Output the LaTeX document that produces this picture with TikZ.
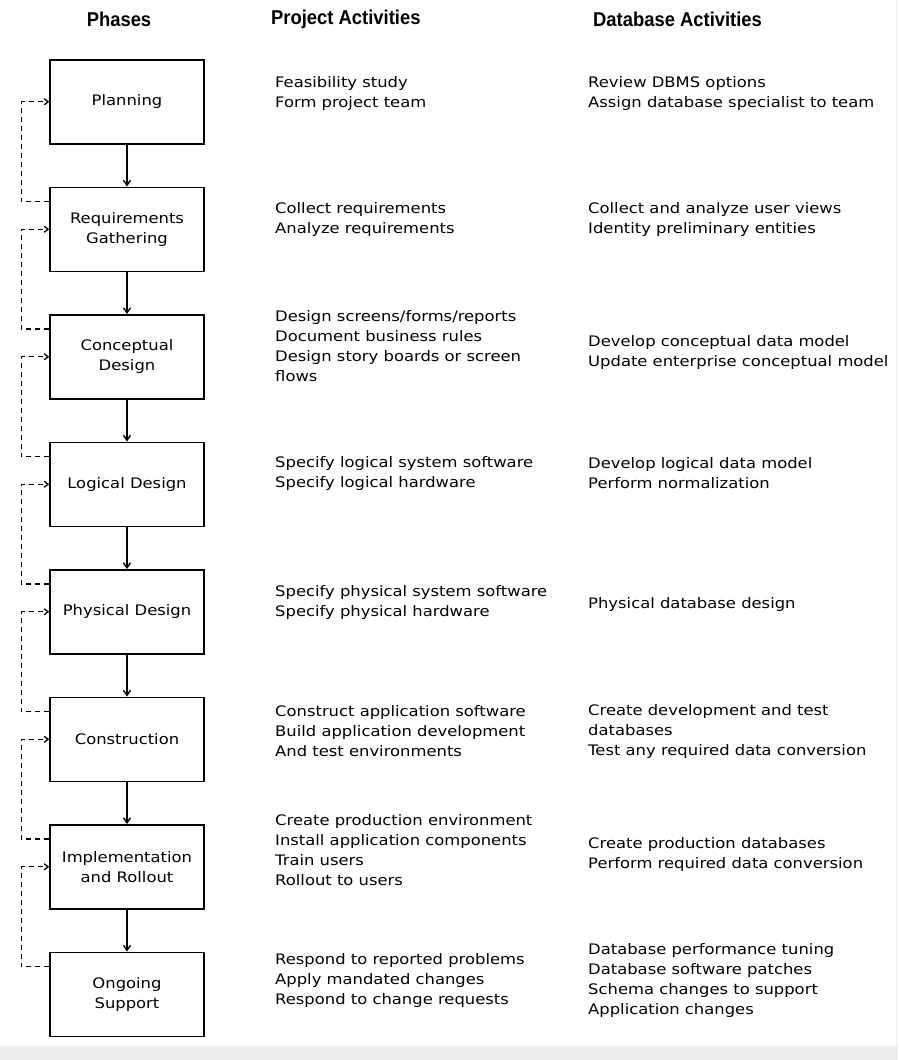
\documentclass[tikz,border=0pt]{standalone}
\usepackage{fontspec}
\setmainfont[FakeStretch=1.13]{DejaVu Sans}
\newfontfamily\headfont[FakeStretch=0.92]{Liberation Sans}
\usetikzlibrary{positioning, arrows.meta}

\begin{document}
\begin{tikzpicture}[x=1pt, y=-1pt,
    font=\fontsize{14.5}{20}\selectfont,
    phase/.style={draw, line width=1.5pt, minimum width=154pt,
                  minimum height=84pt, inner sep=0pt, align=center},
    act/.style={anchor=west, align=left, inner sep=0pt},
    head/.style={font=\headfont\bfseries\fontsize{20}{22}\selectfont, inner sep=0pt},
    flow/.style={line width=1.4pt, -{Straight Barb[length=5pt, width=7pt]}},
    fb/.style={line width=1.3pt, dash pattern=on 5pt off 4pt,
               -{Straight Barb[length=4pt, width=6pt]}}]
    \useasboundingbox (0,0) rectangle (898,1060);
    \fill[gray!15] (0,1046) rectangle (898,1060);
    \draw[gray!12] (896,0) -- (896,1046);

    % Column heads
        \node[head] (hphase) at (119,19) {Phases};
        \node[head, anchor=west] (hproj) at (271,19) {Project Activities};
        \node[head, anchor=west] (hdb) at (593,19) {Database Activities};

    % The phases
        \node[phase, anchor=north] (plan) at (127,59) {Planning};
        \node[phase, below=42pt of plan] (req) {Requirements\\Gathering};
        \node[phase, below=42pt of req] (con) {Conceptual\\Design};
        \node[phase, below=42pt of con] (log) {Logical Design};
        \node[phase, below=42pt of log] (phy) {Physical Design};
        \node[phase, below=42pt of phy] (cons) {Construction};
        \node[phase, below=42pt of cons] (impl) {Implementation\\and Rollout};
        \node[phase, below=42pt of impl] (ong) {Ongoing\\Support};

        \draw[flow]
            (plan) edge (req)
            (req) edge (con)
            (con) edge (log)
            (log) edge (phy)
            (phy) edge (cons)
            (cons) edge (impl)
            (impl) edge (ong);

    % Feedback to the phase before
        \foreach \a/\b in {req/plan, con/req, log/con, phy/log,
                           cons/phy, impl/cons, ong/impl}
            \draw[fb] ([yshift=-15pt]\a.north west) -- ++(-28,0) |- (\b.west);

    % Project activities
        \node[act] (p1) at (275,93) {Feasibility study\\Form project team};
        \node[act] (p2) at (275,219) {Collect requirements\\Analyze requirements};
        \node[act] (p3) at (275,346) {Design screens/forms/reports\\Document business rules\\Design story boards or screen\\flows};
        \node[act] (p4) at (275,473) {Specify logical system software\\Specify logical hardware};
        \node[act] (p5) at (275,602) {Specify physical system software\\Specify physical hardware};
        \node[act] (p6) at (275,731) {Construct application software\\Build application development\\And test environments};
        \node[act] (p7) at (275,850) {Create production environment\\Install application components\\Train users\\Rollout to users};
        \node[act] (p8) at (275,980) {Respond to reported problems\\Apply mandated changes\\Respond to change requests};

    % Database activities
        \node[act] (d1) at (588,93) {Review DBMS options\\Assign database specialist to team};
        \node[act] (d2) at (588,219) {Collect and analyze user views\\Identity preliminary entities};
        \node[act] (d3) at (588,352) {Develop conceptual data model\\Update enterprise conceptual model};
        \node[act] (d4) at (588,473) {Develop logical data model\\Perform normalization};
        \node[act] (d5) at (588,604) {Physical database design};
        \node[act] (d6) at (588,731) {Create development and test\\databases\\Test any required data conversion};
        \node[act] (d7) at (588,854) {Create production databases\\Perform required data conversion};
        \node[act] (d8) at (588,980) {Database performance tuning\\Database software patches\\Schema changes to support\\Application changes};
\end{tikzpicture}
\end{document}
